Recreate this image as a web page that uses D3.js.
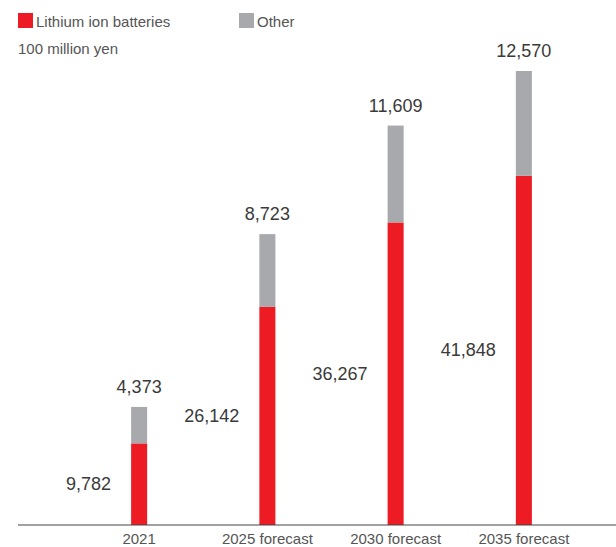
<!DOCTYPE html>
<html lang="en">
<head>
  <meta charset="UTF-8">
  <script src="https://d3js.org/d3.v7.min.js"></script>
  <style>
    body { margin: 0; background: #fff; }
    text { font-family: "Liberation Sans", Arial, sans-serif; }
    .legend, .unit, .tick-label { fill: #555; font-size: 15px; }
    .value { fill: #3a3a3a; font-size: 18px; }
  </style>
</head>
<body>
<script>
// Data (100 million yen)
const categories = ["2021", "2025 forecast", "2030 forecast", "2035 forecast"];
const lithium = [9782, 26142, 36267, 41848];
const other = [4373, 8723, 11609, 12570];
const seriesNames = ["Lithium ion batteries", "Other"];
const colors = ["#ed1c24", "#a7a9ac"];

const width = 616, height = 547;
const baseY = 525, topY = 71;

const svg = d3.select("body").append("svg")
  .attr("width", width)
  .attr("height", height);

const rows = categories.map((c, i) => ({ cat: c, lithium: lithium[i], other: other[i] }));
const stack = d3.stack().keys(["lithium", "other"])(rows);

const x = d3.scaleBand()
  .domain(categories)
  .range([67, 596])
  .paddingInner(0.875)
  .paddingOuter(0.5);

const y = d3.scaleLinear()
  .domain([0, d3.max(rows, d => d.lithium + d.other)])
  .range([baseY, topY]);

// Bars
svg.selectAll(".series")
  .data(stack)
  .enter().append("g")
  .attr("fill", (d, i) => colors[i])
  .selectAll("rect")
  .data(d => d)
  .enter().append("rect")
  .attr("x", d => x(d.data.cat))
  .attr("width", x.bandwidth())
  .attr("y", d => y(d[1]))
  .attr("height", d => y(d[0]) - y(d[1]));

// Baseline
svg.append("line")
  .attr("x1", 18).attr("x2", width)
  .attr("y1", baseY).attr("y2", baseY)
  .attr("stroke", "#444")
  .attr("stroke-width", 1.2);

// Category labels
svg.selectAll(".tick-label")
  .data(categories)
  .enter().append("text")
  .attr("class", "tick-label")
  .attr("x", d => x(d) + x.bandwidth() / 2)
  .attr("y", 544)
  .attr("text-anchor", "middle")
  .text(d => d);

const fmt = d3.format(",");

// Other totals above bars
svg.selectAll(".value-other")
  .data(rows)
  .enter().append("text")
  .attr("class", "value")
  .attr("x", d => x(d.cat) + x.bandwidth() / 2)
  .attr("y", d => y(d.lithium + d.other) - 14)
  .attr("text-anchor", "middle")
  .text(d => fmt(d.other));

// Lithium values left of bars
svg.selectAll(".value-li")
  .data(rows)
  .enter().append("text")
  .attr("class", "value")
  .attr("x", d => x(d.cat) - 20)
  .attr("y", d => y(d.lithium / 2) + 6)
  .attr("text-anchor", "end")
  .text(d => fmt(d.lithium));

// Legend
const legendX = [18, 239];
const lg = svg.selectAll(".legend-item")
  .data(seriesNames)
  .enter().append("g")
  .attr("transform", (d, i) => `translate(${legendX[i]},13)`);
lg.append("rect")
  .attr("width", 15).attr("height", 15)
  .attr("fill", (d, i) => colors[i]);
lg.append("text")
  .attr("class", "legend")
  .attr("x", 18).attr("y", 14)
  .text(d => d);

svg.append("text")
  .attr("class", "unit")
  .attr("x", 18).attr("y", 54)
  .text("100 million yen");
</script>
</body>
</html>
